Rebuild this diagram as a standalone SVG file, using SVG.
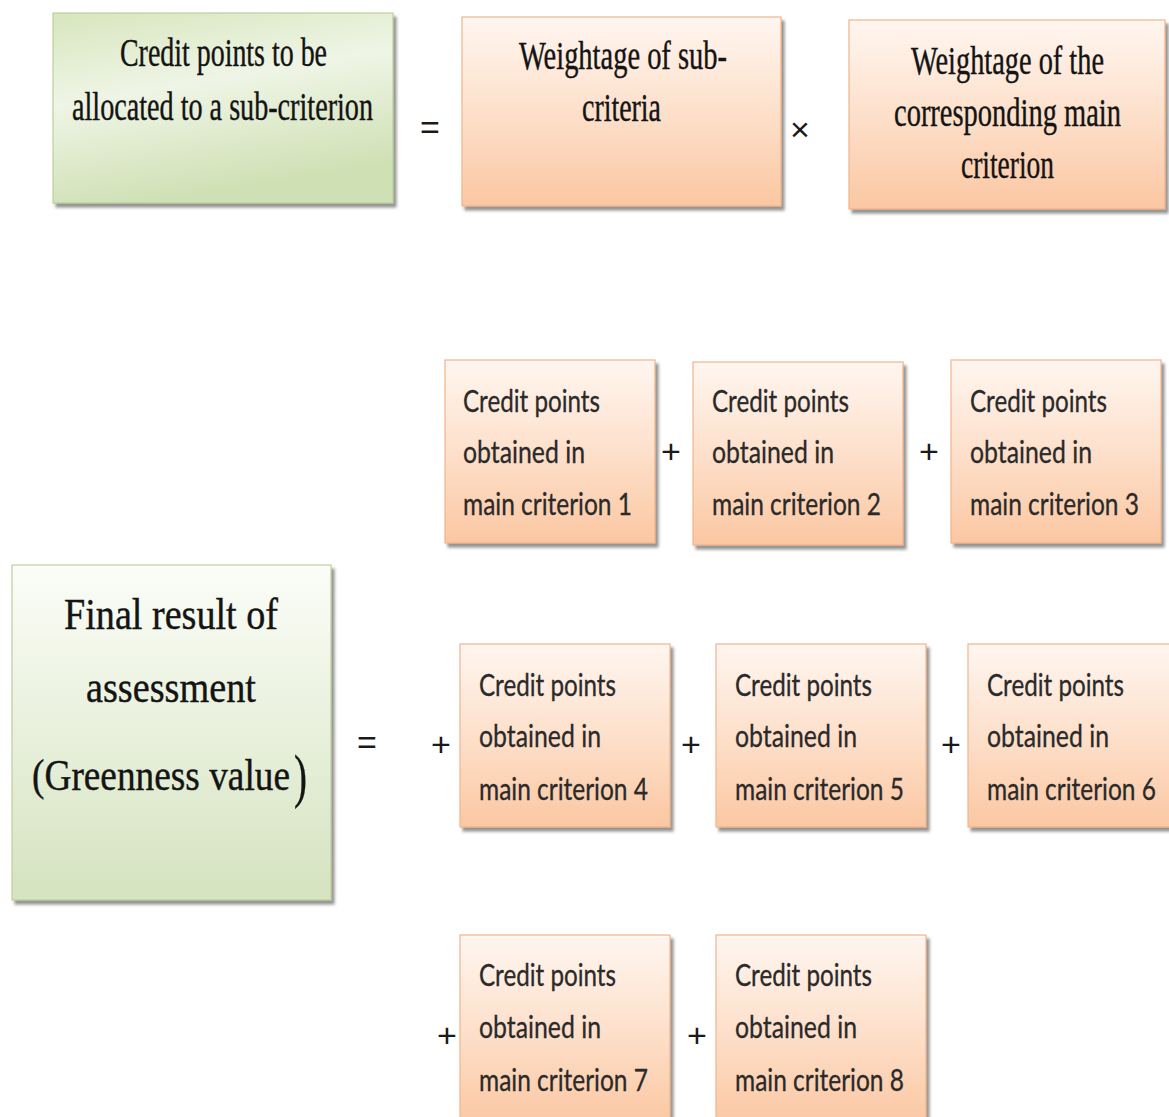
<svg xmlns="http://www.w3.org/2000/svg" width="1169" height="1117" viewBox="0 0 1169 1117">
<defs>
  <linearGradient id="gOrange" x1="0" y1="0" x2="0" y2="1">
    <stop offset="0" stop-color="#fff6f0"/>
    <stop offset="0.5" stop-color="#fde0cb"/>
    <stop offset="1" stop-color="#fbc7a2"/>
  </linearGradient>
  <linearGradient id="gGreenA" x1="0" y1="0" x2="0.3" y2="1">
    <stop offset="0" stop-color="#d7e6bd"/>
    <stop offset="0.45" stop-color="#eff5e6"/>
    <stop offset="1" stop-color="#cfe0b4"/>
  </linearGradient>
  <linearGradient id="gGreenB" x1="0" y1="0" x2="0" y2="1">
    <stop offset="0" stop-color="#fbfdf8"/>
    <stop offset="0.35" stop-color="#eef4e4"/>
    <stop offset="1" stop-color="#d5e3c0"/>
  </linearGradient>
  <filter id="shadow" x="-5%" y="-5%" width="115%" height="115%">
    <feDropShadow dx="3" dy="4" stdDeviation="1.5" flood-color="#6f6f6f" flood-opacity="0.75"/>
  </filter>
</defs>
<style>
  .orange { fill: url(#gOrange); stroke: #f2b48a; stroke-width: 1.2; filter: url(#shadow); }
  .greenA { fill: url(#gGreenA); stroke: #bccf9c; stroke-width: 1.2; filter: url(#shadow); }
  .greenB { fill: url(#gGreenB); stroke: #bccf9c; stroke-width: 1.2; filter: url(#shadow); }
  .serif { font-family: "Liberation Serif", "Times New Roman", serif; fill: #141414; stroke: #141414; stroke-width: 0.4; }
  .sans { font-family: Lato, "Open Sans", "Liberation Sans", sans-serif; font-size: 30px; fill: #2a2a2a; stroke: #2a2a2a; stroke-width: 0.3; }
  .op { font-family: "Liberation Sans", Arial, sans-serif; font-size: 34px; fill: #1a1a1a; text-anchor: middle; }
</style>

<g id="node-credit-sub">
  <rect class="greenA" x="53" y="13" width="340" height="190"/>
  <text class="serif" font-size="40" x="120" y="66" textLength="207" lengthAdjust="spacingAndGlyphs">Credit points to be</text>
  <text class="serif" font-size="40" x="72" y="120" textLength="301" lengthAdjust="spacingAndGlyphs">allocated to a sub-criterion</text>
</g>

<g id="node-weight-sub">
  <rect class="orange" x="462" y="17" width="319" height="189"/>
  <text class="serif" font-size="40" x="519" y="69" textLength="208" lengthAdjust="spacingAndGlyphs">Weightage of sub-</text>
  <text class="serif" font-size="40" x="582" y="121" textLength="79" lengthAdjust="spacingAndGlyphs">criteria</text>
</g>

<g id="node-weight-main">
  <rect class="orange" x="849" y="20" width="316" height="189"/>
  <text class="serif" font-size="40" x="911" y="74" textLength="193" lengthAdjust="spacingAndGlyphs">Weightage of the</text>
  <text class="serif" font-size="40" x="894" y="126" textLength="227" lengthAdjust="spacingAndGlyphs">corresponding main</text>
  <text class="serif" font-size="40" x="961" y="178" textLength="93" lengthAdjust="spacingAndGlyphs">criterion</text>
</g>

<g id="node-final">
  <rect class="greenB" x="12" y="565" width="319" height="335"/>
  <text class="serif" font-size="44" x="64" y="629" textLength="214" lengthAdjust="spacingAndGlyphs">Final result of</text>
  <text class="serif" font-size="44" x="86" y="702" textLength="170" lengthAdjust="spacingAndGlyphs">assessment</text>
  <text class="serif" font-size="44" x="32" y="790" textLength="258" lengthAdjust="spacingAndGlyphs">(Greenness value</text>
  <text class="serif" font-size="60" x="294" y="796" textLength="13" lengthAdjust="spacingAndGlyphs">)</text>
</g>

<g id="node-mc1">
  <rect class="orange" x="445" y="360" width="210" height="183"/>
  <text class="sans" x="463" y="412" textLength="137" lengthAdjust="spacingAndGlyphs">Credit points</text>
  <text class="sans" x="463" y="463" textLength="122" lengthAdjust="spacingAndGlyphs">obtained in</text>
  <text class="sans" x="463" y="515" textLength="169" lengthAdjust="spacingAndGlyphs">main criterion 1</text>
</g>
<g id="node-mc2">
  <rect class="orange" x="693" y="362" width="210" height="183"/>
  <text class="sans" x="712" y="412" textLength="137" lengthAdjust="spacingAndGlyphs">Credit points</text>
  <text class="sans" x="712" y="463" textLength="122" lengthAdjust="spacingAndGlyphs">obtained in</text>
  <text class="sans" x="712" y="515" textLength="169" lengthAdjust="spacingAndGlyphs">main criterion 2</text>
</g>
<g id="node-mc3">
  <rect class="orange" x="951" y="360" width="210" height="183"/>
  <text class="sans" x="970" y="412" textLength="137" lengthAdjust="spacingAndGlyphs">Credit points</text>
  <text class="sans" x="970" y="463" textLength="122" lengthAdjust="spacingAndGlyphs">obtained in</text>
  <text class="sans" x="970" y="515" textLength="169" lengthAdjust="spacingAndGlyphs">main criterion 3</text>
</g>

<g id="node-mc4">
  <rect class="orange" x="460" y="644" width="210" height="183"/>
  <text class="sans" x="479" y="696" textLength="137" lengthAdjust="spacingAndGlyphs">Credit points</text>
  <text class="sans" x="479" y="747" textLength="122" lengthAdjust="spacingAndGlyphs">obtained in</text>
  <text class="sans" x="479" y="800" textLength="169" lengthAdjust="spacingAndGlyphs">main criterion 4</text>
</g>
<g id="node-mc5">
  <rect class="orange" x="716" y="644" width="210" height="183"/>
  <text class="sans" x="735" y="696" textLength="137" lengthAdjust="spacingAndGlyphs">Credit points</text>
  <text class="sans" x="735" y="747" textLength="122" lengthAdjust="spacingAndGlyphs">obtained in</text>
  <text class="sans" x="735" y="800" textLength="169" lengthAdjust="spacingAndGlyphs">main criterion 5</text>
</g>
<g id="node-mc6">
  <rect class="orange" x="968" y="644" width="210" height="183"/>
  <text class="sans" x="987" y="696" textLength="137" lengthAdjust="spacingAndGlyphs">Credit points</text>
  <text class="sans" x="987" y="747" textLength="122" lengthAdjust="spacingAndGlyphs">obtained in</text>
  <text class="sans" x="987" y="800" textLength="169" lengthAdjust="spacingAndGlyphs">main criterion 6</text>
</g>

<g id="node-mc7">
  <rect class="orange" x="460" y="935" width="210" height="190"/>
  <text class="sans" x="479" y="986" textLength="137" lengthAdjust="spacingAndGlyphs">Credit points</text>
  <text class="sans" x="479" y="1038" textLength="122" lengthAdjust="spacingAndGlyphs">obtained in</text>
  <text class="sans" x="479" y="1091" textLength="169" lengthAdjust="spacingAndGlyphs">main criterion 7</text>
</g>
<g id="node-mc8">
  <rect class="orange" x="716" y="935" width="210" height="190"/>
  <text class="sans" x="735" y="986" textLength="137" lengthAdjust="spacingAndGlyphs">Credit points</text>
  <text class="sans" x="735" y="1038" textLength="122" lengthAdjust="spacingAndGlyphs">obtained in</text>
  <text class="sans" x="735" y="1091" textLength="169" lengthAdjust="spacingAndGlyphs">main criterion 8</text>
</g>

<g id="connectors">
  <text class="op" x="430" y="139">=</text>
  <text class="op" x="800" y="141">×</text>
  <text class="op" x="367" y="754">=</text>
  <text class="op" x="671" y="463">+</text>
  <text class="op" x="929" y="463">+</text>
  <text class="op" x="441" y="756">+</text>
  <text class="op" x="691" y="756">+</text>
  <text class="op" x="951" y="756">+</text>
  <text class="op" x="447" y="1047">+</text>
  <text class="op" x="697" y="1047">+</text>
</g>
</svg>
